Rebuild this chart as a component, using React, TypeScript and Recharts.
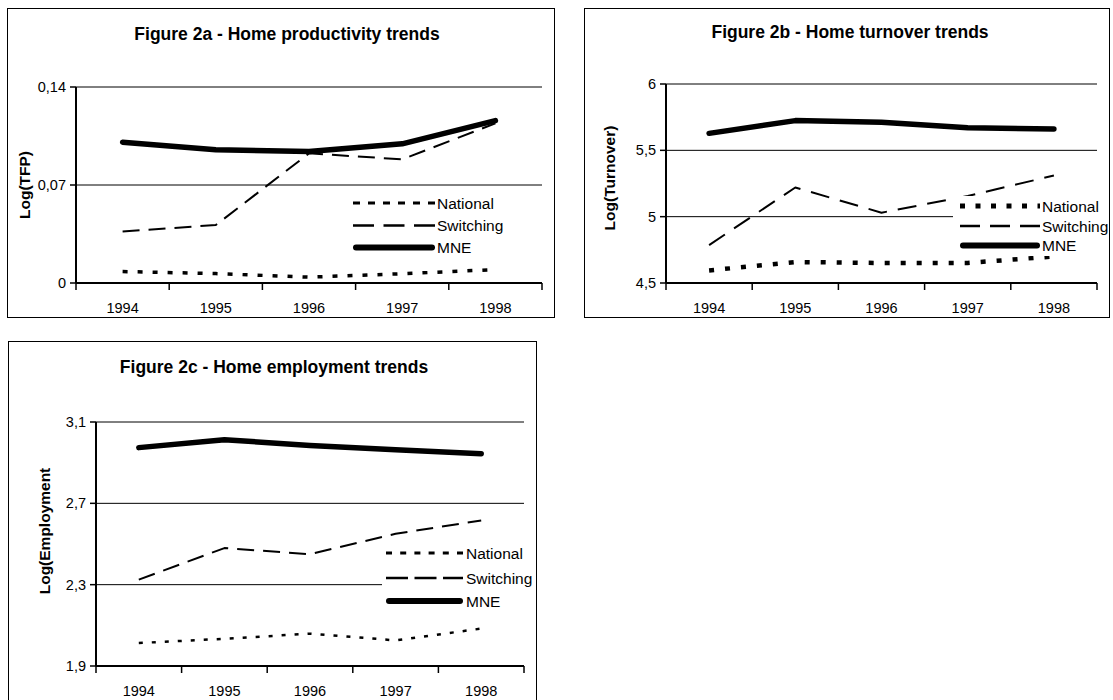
import React from 'react';
import { LineChart, Line, XAxis, YAxis, CartesianGrid } from 'recharts';

const FONT = '"Liberation Sans", Arial, Helvetica, sans-serif';

// ---------- data ----------
const years = ['1994', '1995', '1996', '1997', '1998'];
const seriesNames = ['National', 'Switching', 'MNE'];

const tfpNational = [0.0082, 0.0067, 0.0042, 0.0066, 0.0096];
const tfpSwitching = [0.0368, 0.0414, 0.0926, 0.0883, 0.114];
const tfpMNE = [0.1006, 0.0951, 0.0939, 0.0994, 0.116];

const turnoverNational = [4.595, 4.658, 4.651, 4.651, 4.7];
const turnoverSwitching = [4.786, 5.22, 5.03, 5.156, 5.31];
const turnoverMNE = [5.628, 5.724, 5.711, 5.671, 5.661];

const employmentNational = [2.013, 2.034, 2.059, 2.026, 2.084];
const employmentSwitching = [2.325, 2.48, 2.45, 2.55, 2.616];
const employmentMNE = [2.974, 3.013, 2.985, 2.964, 2.944];

const tfpTicks = [0, 0.07, 0.14];
const turnoverTicks = [4.5, 5, 5.5, 6];
const employmentTicks = [1.9, 2.3, 2.7, 3.1];

const titles = [
  'Figure 2a - Home productivity trends',
  'Figure 2b - Home turnover trends',
  'Figure 2c - Home employment trends',
];
const yLabels = ['Log(TFP)', 'Log(Turnover)', 'Log(Employment'];

const build = (n: number[], s: number[], m: number[]) =>
  years.map((year, i) => ({ year, National: n[i], Switching: s[i], MNE: m[i] }));

const tfpData = build(tfpNational, tfpSwitching, tfpMNE);
const turnoverData = build(turnoverNational, turnoverSwitching, turnoverMNE);
const employmentData = build(employmentNational, employmentSwitching, employmentMNE);

const fmt = (v: number) => String(v).replace('.', ',');

const Y_AXIS_W = 40;
const X_AXIS_H = 30;
const TICK_FS = 14.5;

type LineStyle = { w: number; dash?: string; round?: boolean };

type PanelProps = {
  frame: { left: number; top: number; width: number; height: number };
  margin: { top: number; right: number; bottom: number; left: number };
  data: any[];
  domain: [number, number];
  ticks: number[];
  title: string;
  titleCx: number;
  titleTop: number;
  yLabel: string;
  yLabelCx: number;
  yLabelCy: number;
  seriesStyles: LineStyle[];
  legend: {
    box: { left: number; top: number; width: number; height: number };
    x1: number;
    x2: number;
    tx: number;
    rows: number[];
    styles: LineStyle[];
  };
};

function XTick(props: any) {
  const { x, y, payload, index, bw, count } = props;
  return (
    <g>
      <line x1={x - bw / 2} y1={y} x2={x - bw / 2} y2={y + 7} stroke="#000" strokeWidth={1.5} />
      {index === count - 1 && (
        <line x1={x + bw / 2} y1={y} x2={x + bw / 2} y2={y + 7} stroke="#000" strokeWidth={1.5} />
      )}
      <text
        x={x}
        y={y + 25}
        dy="0.36em"
        textAnchor="middle"
        fontSize={TICK_FS}
        fontFamily={FONT}
        fill="#000"
      >
        {payload.value}
      </text>
    </g>
  );
}

function LegendBox({ legend }: { legend: PanelProps['legend'] }) {
  const { box, x1, x2, tx, rows, styles } = legend;
  return (
    <svg
      style={{ position: 'absolute', left: box.left, top: box.top, overflow: 'visible' }}
      width={box.width}
      height={box.height}
    >
      <rect x={0} y={0} width={box.width} height={box.height} fill="#fff" />
      {seriesNames.map((name, i) => {
        const st = styles[i];
        const y = rows[i] - box.top;
        const inset = st.round ? st.w / 2 : 0;
        return (
          <g key={name}>
            <line
              x1={x1 - box.left + inset}
              x2={x2 - box.left - inset}
              y1={y}
              y2={y}
              stroke="#000"
              strokeWidth={st.w}
              strokeDasharray={st.dash}
              strokeLinecap={st.round ? 'round' : 'butt'}
            />
            <text
              x={tx - box.left}
              y={y}
              dy="0.36em"
              fontSize={15.5}
              fontFamily={FONT}
              fill="#000"
            >
              {name}
            </text>
          </g>
        );
      })}
    </svg>
  );
}

function Panel(p: PanelProps) {
  const plotW = p.frame.width - p.margin.left - Y_AXIS_W - p.margin.right;
  const bw = plotW / years.length;
  return (
    <>
      <div
        style={{
          position: 'absolute',
          left: p.frame.left,
          top: p.frame.top,
          width: p.frame.width,
          height: p.frame.height,
          border: '1.5px solid #000',
          boxSizing: 'border-box',
        }}
      />
      <div style={{ position: 'absolute', left: p.frame.left, top: p.frame.top }}>
        <LineChart width={p.frame.width} height={p.frame.height} data={p.data} margin={p.margin}>
          <CartesianGrid vertical={false} stroke="#000" strokeWidth={1} />
          <XAxis
            dataKey="year"
            type="category"
            scale="point"
            padding={{ left: bw / 2, right: bw / 2 }}
            height={X_AXIS_H}
            interval={0}
            tickSize={0}
            tickMargin={0}
            tickLine={false}
            axisLine={{ stroke: '#000', strokeWidth: 2 }}
            tick={(tp: any) => <XTick {...tp} bw={bw} count={years.length} />}
          />
          <YAxis
            type="number"
            width={Y_AXIS_W}
            domain={p.domain}
            ticks={p.ticks}
            interval={0}
            tickFormatter={fmt}
            tickSize={6}
            tickMargin={4}
            axisLine={{ stroke: '#000', strokeWidth: 2 }}
            tickLine={{ stroke: '#000', strokeWidth: 1.5 }}
            tick={{ fill: '#000', fontSize: TICK_FS, fontFamily: FONT }}
          />
          {seriesNames.map((name, i) => {
            const st = p.seriesStyles[i];
            return (
              <Line
                key={name}
                type="linear"
                dataKey={name}
                stroke="#000"
                strokeWidth={st.w}
                strokeDasharray={st.dash}
                strokeLinecap={st.round ? 'round' : 'butt'}
                strokeLinejoin="round"
                dot={false}
                activeDot={false}
                isAnimationActive={false}
              />
            );
          })}
        </LineChart>
      </div>
      <div
        style={{
          position: 'absolute',
          left: p.titleCx - 300,
          width: 600,
          top: p.titleTop,
          textAlign: 'center',
          fontFamily: FONT,
          fontWeight: 'bold',
          fontSize: 17.5,
          lineHeight: '17.5px',
          whiteSpace: 'nowrap',
        }}
      >
        {p.title}
      </div>
      <div
        style={{
          position: 'absolute',
          left: p.yLabelCx,
          top: p.yLabelCy,
          transform: 'translate(-50%, -50%) rotate(-90deg)',
          fontFamily: FONT,
          fontWeight: 'bold',
          fontSize: 15.5,
          lineHeight: '15.5px',
          whiteSpace: 'nowrap',
        }}
      >
        {p.yLabel}
      </div>
      <LegendBox legend={p.legend} />
    </>
  );
}

export default function App() {
  return (
    <div
      style={{
        position: 'absolute',
        left: 0,
        top: 0,
        width: 1113,
        height: 700,
        background: '#fff',
        overflow: 'hidden',
        fontFamily: FONT,
      }}
    >
      <Panel
        frame={{ left: 7, top: 8, width: 548, height: 310 }}
        margin={{ top: 79, right: 13, bottom: 318 - 8 - 79 - 196 - X_AXIS_H, left: 29 }}
        data={tfpData}
        domain={[0, 0.14]}
        ticks={tfpTicks}
        title={titles[0]}
        titleCx={287}
        titleTop={25.5}
        yLabel={yLabels[0]}
        yLabelCx={25}
        yLabelCy={185}
        seriesStyles={[
          { w: 3.5, dash: '5 10' },
          { w: 2, dash: '17 9' },
          { w: 5.5, round: true },
        ]}
        legend={{
          box: { left: 350, top: 192, width: 165, height: 66 },
          x1: 353,
          x2: 435,
          tx: 437,
          rows: [203, 225.5, 247.5],
          styles: [
            { w: 3, dash: '7 8' },
            { w: 2.5, dash: '21 9.5' },
            { w: 6, round: true },
          ],
        }}
      />
      <Panel
        frame={{ left: 584, top: 8, width: 526, height: 310 }}
        margin={{ top: 76, right: 13, bottom: 318 - 8 - 76 - 199 - X_AXIS_H, left: 42 }}
        data={turnoverData}
        domain={[4.5, 6]}
        ticks={turnoverTicks}
        title={titles[1]}
        titleCx={850}
        titleTop={23.5}
        yLabel={yLabels[1]}
        yLabelCx={610}
        yLabelCy={178}
        seriesStyles={[
          { w: 4.5, dash: '5 11' },
          { w: 2, dash: '19 11' },
          { w: 5.5, round: true },
        ]}
        legend={{
          box: { left: 953, top: 196, width: 156, height: 60 },
          x1: 960,
          x2: 1040,
          tx: 1042,
          rows: [206, 226, 245.5],
          styles: [
            { w: 5, dash: '5 10.5' },
            { w: 2.5, dash: '20 10' },
            { w: 6, round: true },
          ],
        }}
      />
      <Panel
        frame={{ left: 8, top: 341, width: 529, height: 370 }}
        margin={{ top: 81, right: 13, bottom: 15, left: 48 }}
        data={employmentData}
        domain={[1.9, 3.1]}
        ticks={employmentTicks}
        title={titles[2]}
        titleCx={274}
        titleTop={358.5}
        yLabel={yLabels[2]}
        yLabelCx={45}
        yLabelCy={531}
        seriesStyles={[
          { w: 2.5, dash: '4 9' },
          { w: 2, dash: '17 9' },
          { w: 5.5, round: true },
        ]}
        legend={{
          box: { left: 382, top: 540, width: 150, height: 72 },
          x1: 386,
          x2: 463,
          tx: 466,
          rows: [553, 578, 601],
          styles: [
            { w: 3, dash: '6 8.2' },
            { w: 2.5, dash: '22 6.5' },
            { w: 6, round: true },
          ],
        }}
      />
    </div>
  );
}
